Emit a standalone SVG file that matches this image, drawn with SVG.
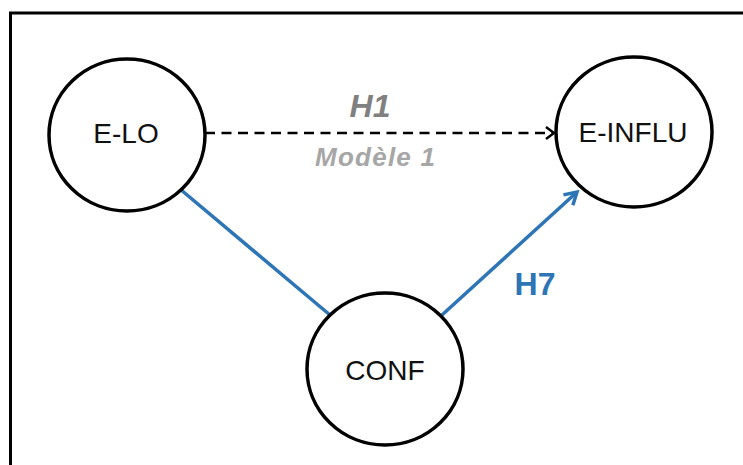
<svg xmlns="http://www.w3.org/2000/svg" width="743" height="465" viewBox="0 0 743 465">
<style>
.node{fill:#fff;stroke:#000;stroke-width:3.5}
.lbl{font-family:"Liberation Sans",Arial,sans-serif;font-size:28px;fill:#111;text-anchor:middle}
.blue{stroke:#2E75B6;stroke-width:3.5;fill:none}
</style>
<defs>
<marker id="openBlack" markerWidth="12" markerHeight="14" refX="10" refY="7" orient="auto" markerUnits="userSpaceOnUse">
<path d="M2,1 L10,7 L2,13" fill="none" stroke="#000" stroke-width="2.5"/>
</marker>
<marker id="openBlue" markerWidth="18" markerHeight="18" refX="15" refY="9" orient="auto" markerUnits="userSpaceOnUse">
<path d="M3,2 L15,9 L3,16" fill="none" stroke="#2E75B6" stroke-width="3.5"/>
</marker>
</defs>
<rect width="743" height="465" fill="#fff"/>
<path d="M10.5,466 V13 H744" fill="none" stroke="#000" stroke-width="3"/>
<g id="connectors">
<line x1="205" y1="133" x2="554" y2="133" stroke="#000" stroke-width="2.5" stroke-dasharray="10,6.5" marker-end="url(#openBlack)"/>
<line class="blue" x1="180" y1="189" x2="330" y2="315"/>
<line class="blue" x1="442" y1="315" x2="577" y2="192" marker-end="url(#openBlue)"/>
<text x="370" y="117" style="font-family:'Liberation Sans',Arial,sans-serif;font-size:32px;font-weight:bold;font-style:italic;fill:#808080" text-anchor="middle">H1</text>
<text x="375" y="166" style="font-family:'Liberation Sans',Arial,sans-serif;font-size:26px;font-weight:bold;font-style:italic;fill:#A6A6A6" text-anchor="middle" textLength="120">Modèle 1</text>
<text x="535" y="295" style="font-family:'Liberation Sans',Arial,sans-serif;font-size:32px;font-weight:bold;fill:#2E75B6" text-anchor="middle">H7</text>
</g>
<g id="node-elo">
<ellipse class="node" cx="127" cy="135" rx="78" ry="76"/>
<text class="lbl" x="126" y="143">E-LO</text>
</g>
<g id="node-einflu">
<ellipse class="node" cx="634" cy="132" rx="78" ry="75"/>
<text class="lbl" x="633" y="142">E-INFLU</text>
</g>
<g id="node-conf">
<ellipse class="node" cx="385" cy="369" rx="78" ry="76"/>
<text class="lbl" x="385" y="380">CONF</text>
</g>
</svg>
